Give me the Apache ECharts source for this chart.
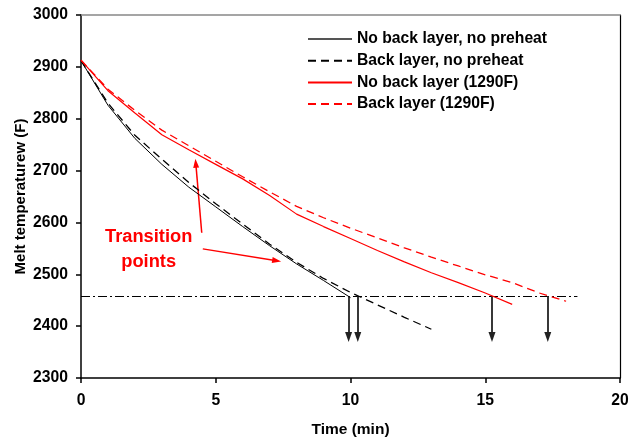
<!DOCTYPE html>
<html>
<head>
<meta charset="utf-8">
<script src="https://cdn.jsdelivr.net/npm/echarts@6/dist/echarts.min.js"></script>
<style>html,body{margin:0;padding:0;background:#fff}#c{width:639px;height:441px}</style>
</head>
<body>
<div id="c"></div>
<script>
// ---- data ----
const seriesNames = ['No back layer, no preheat', 'Back layer, no preheat', 'No back layer (1290F)', 'Back layer (1290F)'];
const timeBlackSolid = [0, 1, 2, 3, 4, 5, 6, 7, 8, 9, 10];
const tempBlackSolid = [2912, 2826, 2762, 2712, 2668, 2630, 2592, 2555, 2520, 2488, 2455];
const timeBlackDashed = [0, 1, 2, 3, 4, 5, 6, 7, 8, 9, 10, 11, 12, 13];
const tempBlackDashed = [2912, 2830, 2768, 2722, 2677, 2636, 2597, 2558, 2523, 2492, 2465, 2441, 2417, 2394];
const timeRedSolid = [0, 1, 2, 3, 4, 5, 6, 7, 8, 9, 10, 11, 12, 13, 14, 15, 16];
const tempRedSolid = [2913, 2854, 2811, 2769, 2740, 2712, 2684, 2652, 2616, 2592, 2569, 2546, 2524, 2503, 2484, 2464, 2442];
const timeRedDashed = [0, 1, 2, 3, 4, 5, 6, 7, 8, 9, 10, 11, 12, 13, 14, 15, 16, 17, 18];
const tempRedDashed = [2913, 2857, 2816, 2778, 2748, 2718, 2688, 2659, 2631, 2609, 2589, 2570, 2551, 2533, 2516, 2499, 2484, 2464, 2448];
const criticalTemp = 2458;
const criticalLineEnd = 18.42;
const transitionTimes = [9.93, 10.27, 15.25, 17.32];
const arrowBottom = 2379;
const annotationArrows = [
  [[4.48, 2580], [4.26, 2714]],
  [[4.52, 2549], [7.26, 2526]]
];
const annotationText = 'Transition\npoints';
const xTicks = {min: 0, max: 20, interval: 5};
const yTicks = {min: 2300, max: 3000, interval: 100};
const xTitle = 'Time (min)';
const yTitle = 'Melt temperaturew (F)';

function zip(xs, ys) { return xs.map((x, i) => [x, ys[i]]); }

const FONT = 'Liberation Sans, Arial, sans-serif';
const chart = echarts.init(document.getElementById('c'), null, {renderer: 'canvas'});

const markLines = [];
markLines.push([{coord: [0, criticalTemp], symbol: 'none'}, {coord: [criticalLineEnd, criticalTemp], symbol: 'none'}]);
const arrowLines = transitionTimes.map(t => [{coord: [t, criticalTemp], symbol: 'none'}, {coord: [t, arrowBottom], symbol: 'triangle'}]);
const redArrows = annotationArrows.map(a => [{coord: a[0], symbol: 'none'}, {coord: a[1], symbol: 'triangle'}]);

const legendData = seriesNames.map((n, i) => i === 0 ? {name: n, lineStyle: {color: '#555'}} : {name: n});

const option = {
  animation: false,
  backgroundColor: '#fff',
  grid: {left: 81, right: 19, top: 15, bottom: 63, show: false, containLabel: false, outerBoundsMode: 'none'},
  legend: {
    data: legendData,
    orient: 'vertical',
    left: 307, top: 31, padding: 0,
    itemWidth: 44, itemHeight: 14, itemGap: 5.7,
    itemStyle: {opacity: 0},
    textStyle: {fontFamily: FONT, fontWeight: 'bold', fontSize: 15.7, color: '#000', lineHeight: 16}
  },
  xAxis: [{
    type: 'value', min: xTicks.min, max: xTicks.max, interval: xTicks.interval,
    name: xTitle, nameLocation: 'middle', nameGap: 44, nameMoveOverlap: false,
    nameTextStyle: {fontFamily: FONT, fontWeight: 'bold', fontSize: 15.5, color: '#000'},
    axisLine: {show: true, lineStyle: {color: '#000', width: 1.5}},
    axisTick: {show: true, length: 5, lineStyle: {color: '#000', width: 1.5}},
    axisLabel: {margin: 15, fontFamily: FONT, fontWeight: 'bold', fontSize: 15.7, color: '#000', formatter: v => String(v)},
    splitLine: {show: false}
  }, {
    type: 'value', position: 'top', min: xTicks.min, max: xTicks.max,
    axisLine: {show: true, onZero: false, lineStyle: {color: '#888', width: 1.5}},
    axisTick: {show: false}, axisLabel: {show: false}, splitLine: {show: false}
  }],
  yAxis: [{
    type: 'value', min: yTicks.min, max: yTicks.max, interval: yTicks.interval,
    name: yTitle, nameLocation: 'middle', nameGap: 53, nameRotate: 90, nameMoveOverlap: false,
    nameTextStyle: {fontFamily: FONT, fontWeight: 'bold', fontSize: 15, color: '#000'},
    axisLine: {show: true, lineStyle: {color: '#000', width: 1.5}},
    axisTick: {show: true, length: 5, lineStyle: {color: '#000', width: 1.5}},
    axisLabel: {margin: 13, fontFamily: FONT, fontWeight: 'bold', fontSize: 15.7, color: '#000', formatter: v => String(v)},
    splitLine: {show: false}
  }, {
    type: 'value', position: 'right', min: yTicks.min, max: yTicks.max,
    axisLine: {show: true, onZero: false, lineStyle: {color: '#000', width: 1.2}},
    axisTick: {show: false}, axisLabel: {show: false}, splitLine: {show: false}
  }],
  series: [
    {name: seriesNames[0], type: 'line', data: zip(timeBlackSolid, tempBlackSolid), symbol: 'none', showSymbol: false,
     lineStyle: {color: '#000', width: 1}, itemStyle: {color: '#555'}, z: 5},
    {name: seriesNames[1], type: 'line', data: zip(timeBlackDashed, tempBlackDashed), symbol: 'none', showSymbol: false,
     lineStyle: {color: '#000', width: 1.3, type: [8, 5]}, itemStyle: {color: '#000'}, z: 5},
    {name: seriesNames[2], type: 'line', data: zip(timeRedSolid, tempRedSolid), symbol: 'none', showSymbol: false,
     lineStyle: {color: '#ff0000', width: 1.2}, itemStyle: {color: '#ff0000'}, z: 5},
    {name: seriesNames[3], type: 'line', data: zip(timeRedDashed, tempRedDashed), symbol: 'none', showSymbol: false,
     lineStyle: {color: '#ff0000', width: 1.3, type: [8, 5]}, itemStyle: {color: '#ff0000'}, z: 5},
    {name: 'critical', type: 'line', data: [], silent: true,
     markLine: {silent: true, animation: false, label: {show: false},
       lineStyle: {color: '#000', width: 1.2, type: [9, 3, 2, 3]}, data: markLines}},
    {name: 'arrows', type: 'line', data: [], silent: true,
     markLine: {silent: true, animation: false, label: {show: false}, symbolSize: [7, 10],
       lineStyle: {color: '#222', width: 1.8, type: 'solid'}, data: arrowLines}},
    {name: 'redArrows', type: 'line', data: [], silent: true,
     markLine: {silent: true, animation: false, label: {show: false}, symbolSize: [6, 9],
       lineStyle: {color: '#ff0000', width: 1.5, type: 'solid'}, data: redArrows}}
  ],
  graphic: [{
    type: 'text', left: 105, top: 224,
    style: {text: annotationText, fill: '#ff0000', font: 'bold 18.3px ' + FONT, textAlign: 'center', lineHeight: 25, align: 'center'}
  }]
};
chart.setOption(option);
</script>
</body>
</html>
